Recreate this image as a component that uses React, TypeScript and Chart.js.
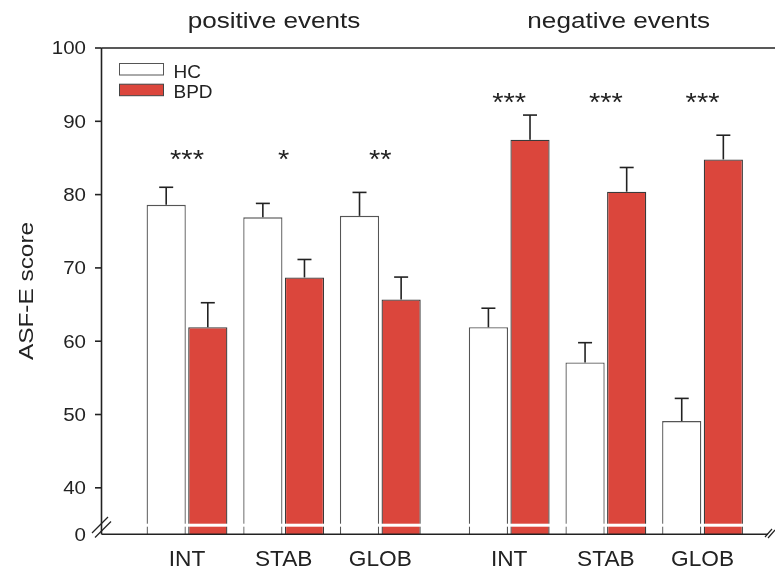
import React, { useEffect, useRef } from 'react';
import { Chart, registerables } from 'chart.js';
Chart.register(...registerables);

// ---- data ----
const CATEGORIES = ['INT', 'STAB', 'GLOB', 'INT', 'STAB', 'GLOB'];
const SLOTS = [0, 3, 6, 10, 13, 16];
const GROUP_TITLES = ['positive events', 'negative events'];
const GROUP_TITLE_X = [2.7, 13.4];
const SERIES = ['HC', 'BPD'];
const HC = [78.6, 76.9, 77.1, 61.9, 57.1, 49.1];
const HC_ERR = [2.4, 1.9, 3.2, 2.6, 2.7, 3.1];
const BPD = [61.9, 68.7, 65.7, 87.5, 80.4, 84.8];
const BPD_ERR = [3.35, 2.45, 3.05, 3.35, 3.3, 3.3];
const SIG = ['***', '*', '**', '***', '***', '***'];
const SIG_Y = [83.6, 83.6, 83.6, 91.4, 91.4, 91.4];
const Y_TICKS = [40, 50, 60, 70, 80, 90, 100];
const Y_MIN = 33.7;
const Y_MAX = 100;
const BREAK_LABEL = '0';
const BREAK_VALUE = 34.9;
const Y_TITLE = 'ASF-E score';

const HC_FILL = '#ffffff';
const BPD_FILL = '#DB463C';
const INK = '#222222';
const FONT = '"Liberation Sans", Arial, Helvetica, sans-serif';

function txt(ctx: CanvasRenderingContext2D, s: string, x: number, y: number, size: number, align: CanvasTextAlign, sx = 1, rot = 0) {
  ctx.save();
  ctx.translate(x, y);
  ctx.rotate(rot);
  ctx.scale(sx, 1);
  ctx.font = `${size}px ${FONT}`;
  ctx.textAlign = align;
  ctx.textBaseline = 'alphabetic';
  ctx.fillStyle = INK;
  ctx.fillText(s, 0, 0);
  ctx.restore();
}

function seg(ctx: CanvasRenderingContext2D, x1: number, y1: number, x2: number, y2: number) {
  ctx.beginPath();
  ctx.moveTo(x1, y1);
  ctx.lineTo(x2, y2);
  ctx.stroke();
}

const overlay = {
  id: 'overlay',
  afterDatasetsDraw(chart: any) {
    const { ctx, chartArea: a, scales } = chart;
    const x = scales.x;
    const y = scales.y;
    const W = chart.width;
    ctx.save();
    // axis break band across bars
    const bandY = y.getPixelForValue(BREAK_VALUE);
    ctx.fillStyle = '#ffffff';
    ctx.fillRect(a.left + 1, bandY - 1.5, a.right - a.left - 1, 3);

    // error bars
    ctx.strokeStyle = INK;
    ctx.lineWidth = 1.6;
    const errs = [HC_ERR, BPD_ERR];
    const vals = [HC, BPD];
    [0, 1].forEach((di) => {
      const meta = chart.getDatasetMeta(di);
      meta.data.forEach((bar: any, i: number) => {
        const top = y.getPixelForValue(vals[di][i] + errs[di][i]);
        seg(ctx, bar.x, bar.y, bar.x, top);
        seg(ctx, bar.x - 7, top, bar.x + 7, top);
      });
    });

    // significance stars
    SIG.forEach((s, i) => {
      txt(ctx, s, x.getPixelForValue(SLOTS[i]), y.getPixelForValue(SIG_Y[i]), 25, 'center', 1.16);
    });

    // axes
    ctx.strokeStyle = INK;
    ctx.lineWidth = 1.6;
    const L = a.left - 0.5;
    const B = a.bottom + 0.3;
    seg(ctx, L, a.top, L, B);
    seg(ctx, L, a.top, W, a.top);
    seg(ctx, L, B, a.right - 4, B);
    // break marks
    ctx.lineWidth = 1.2;
    seg(ctx, 92, 533, 108, 517);
    seg(ctx, 95, 537.5, 111, 521.5);
    seg(ctx, 765, 537, 772, 529);
    seg(ctx, 768, 538, 775, 530);

    // y ticks & labels
    ctx.lineWidth = 1.6;
    Y_TICKS.forEach((t) => {
      const py = y.getPixelForValue(t);
      seg(ctx, L - 6.5, py, L, py);
      txt(ctx, String(t), 86, py + 6.3, 17.7, 'right', 1.16);
    });
    txt(ctx, BREAK_LABEL, 86, B + 6.3, 17.7, 'right', 1.16);

    // y title
    txt(ctx, Y_TITLE, 33, 291, 21, 'center', 1.16, -Math.PI / 2);

    // category labels
    CATEGORIES.forEach((c, i) => {
      txt(ctx, c, x.getPixelForValue(SLOTS[i]), 565.7, 22, 'center', 1.03);
    });

    // group titles
    GROUP_TITLES.forEach((g, i) => {
      txt(ctx, g, x.getPixelForValue(GROUP_TITLE_X[i]), 27.5, 22.5, 'center', 1.16);
    });

    // legend
    const fills = [HC_FILL, BPD_FILL];
    const strokes = ['#555555', '#444444'];
    const boxTops = [63.5, 84.2];
    const bases = [77.7, 97.6];
    SERIES.forEach((s, i) => {
      ctx.fillStyle = fills[i];
      ctx.fillRect(119.5, boxTops[i], 44, 11.5);
      ctx.strokeStyle = strokes[i];
      ctx.lineWidth = 1;
      ctx.strokeRect(119.5, boxTops[i], 44, 11.5);
      txt(ctx, s, 173.5, bases[i], 19, 'left', 1.0);
    });
    ctx.restore();
  },
};

export default function App() {
  const ref = useRef<HTMLCanvasElement | null>(null);
  useEffect(() => {
    if (!ref.current) return;
    const chart = new Chart(ref.current, {
      type: 'bar',
      data: {
        datasets: [
          {
            label: SERIES[0],
            data: SLOTS.map((s, i) => ({ x: s, y: HC[i] })),
            backgroundColor: HC_FILL,
            borderColor: '#555555',
            borderWidth: 1.3,
            base: Y_MIN,
          },
          {
            label: SERIES[1],
            data: SLOTS.map((s, i) => ({ x: s, y: BPD[i] })),
            backgroundColor: BPD_FILL,
            borderColor: '#3a3a3a',
            borderWidth: 1.3,
            base: Y_MIN,
          },
        ],
      },
      options: {
        responsive: false,
        animation: false,
        devicePixelRatio: 1,
        categoryPercentage: 0.861,
        barPercentage: 0.942,
        layout: { padding: { left: 102, right: 3, top: 48, bottom: 37 } },
        plugins: { legend: { display: false }, tooltip: { enabled: false }, title: { display: false } },
        scales: {
          x: {
            type: 'linear',
            display: false,
            offset: false,
            grid: { offset: false },
            min: -2.638,
            max: 18.156,
            afterBuildTicks: (scale: any) => {
              scale.ticks = SLOTS.map((v) => ({ value: v }));
            },
          },
          y: {
            type: 'linear',
            display: false,
            min: Y_MIN,
            max: Y_MAX,
          },
        },
      } as any,
      plugins: [overlay],
    });
    return () => chart.destroy();
  }, []);
  return (
    <div style={{ position: 'fixed', left: 0, top: 0, width: 775, height: 571, background: '#fff' }}>
      <canvas ref={ref} width={775} height={571} style={{ width: 775, height: 571, display: 'block' }} />
    </div>
  );
}
